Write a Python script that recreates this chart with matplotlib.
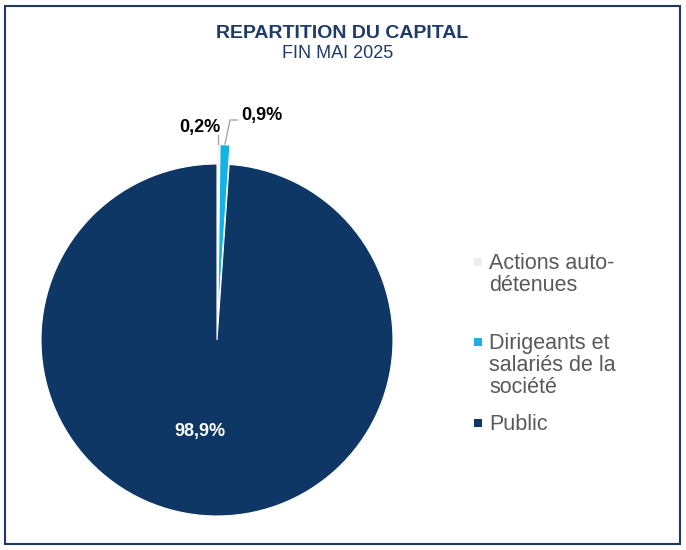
import matplotlib.pyplot as plt
from matplotlib.patches import Rectangle
import numpy as np

# données
labels = ["Actions auto-\ndétenues", "Dirigeants et\nsalariés de la\nsociété", "Public"]
values = [0.2, 0.9, 98.9]
pct_labels = ["0,2%", "0,9%", "98,9%"]
colors = ["#EDEDED", "#14B3E6", "#0E3766"]

title = "REPARTITION DU CAPITAL"
subtitle = "FIN MAI 2025"

W, H = 686, 550
fig = plt.figure(figsize=(W / 100, H / 100), dpi=100)
plt.rcParams['font.family'] = ['Liberation Sans', 'DejaVu Sans']

# cadre
fig.patches.append(Rectangle((5 / W, 6 / H), 675 / W, 538 / H, transform=fig.transFigure,
                             fill=False, edgecolor="#1F3864", lw=1.5))

fig.text(342 / W, 1 - 34 / H, title, ha="center", va="center", fontsize=14,
         fontweight="bold", color="#1F3B6A")
fig.text(338 / W, 1 - 54 / H, subtitle, ha="center", va="center", fontsize=13,
         color="#1F3B6A")

# pie: centre (217, 340) px, rayon 176 px
R = 176
lim = 1.2
side = 2 * lim * R
ax = fig.add_axes([(217 - side / 2) / W, (H - 340 - side / 2) / H, side / W, side / H])
wedges, _ = ax.pie(values, colors=colors, startangle=90, counterclock=False,
                   explode=[0.11, 0.11, 0], radius=1,
                   wedgeprops=dict(linewidth=0.8, edgecolor="white"))
ax.set_xlim(-lim, lim)
ax.set_ylim(-lim, lim)
ax.set_aspect("equal")
ax.axis("off")

def outer_point(w, r):
    th = np.deg2rad((w.theta1 + w.theta2) / 2)
    cx, cy = w.center
    return cx + r * np.cos(th), cy + r * np.sin(th)

# étiquette 0,2%
x0, y0 = outer_point(wedges[0], 1.0)
ax.plot([x0, x0], [y0 + 0.005, 1.165], color="#A6A6A6", lw=1, clip_on=False)
ax.text(-0.10, 1.21, pct_labels[0], ha="center", va="center", fontsize=13,
        fontweight="bold", color="black")

# étiquette 0,9%
x1, y1 = outer_point(wedges[1], 1.0)
ax.plot([x1, 0.074, 0.114], [y1 + 0.005, 1.25, 1.25], color="#A6A6A6", lw=1, clip_on=False)
ax.text(0.255, 1.275, pct_labels[1], ha="center", va="center", fontsize=13,
        fontweight="bold", color="black")

# étiquette 98,9%
ax.text(-0.097, -0.52, pct_labels[2], ha="center", va="center", fontsize=13,
        fontweight="bold", color="white")

# légende
leg_y = [262, 342, 423]
for lab, col, y in zip(labels, colors, leg_y):
    fig.patches.append(Rectangle((474 / W, 1 - (y + 4) / H), 8 / W, 8 / H,
                                 transform=fig.transFigure, color=col, lw=0))
    fig.text(489 / W, 1 - (y - 9) / H, lab, ha="left", va="top", fontsize=15.5,
             color="#595959", linespacing=1.05)

fig.savefig("out.png", dpi=100)
